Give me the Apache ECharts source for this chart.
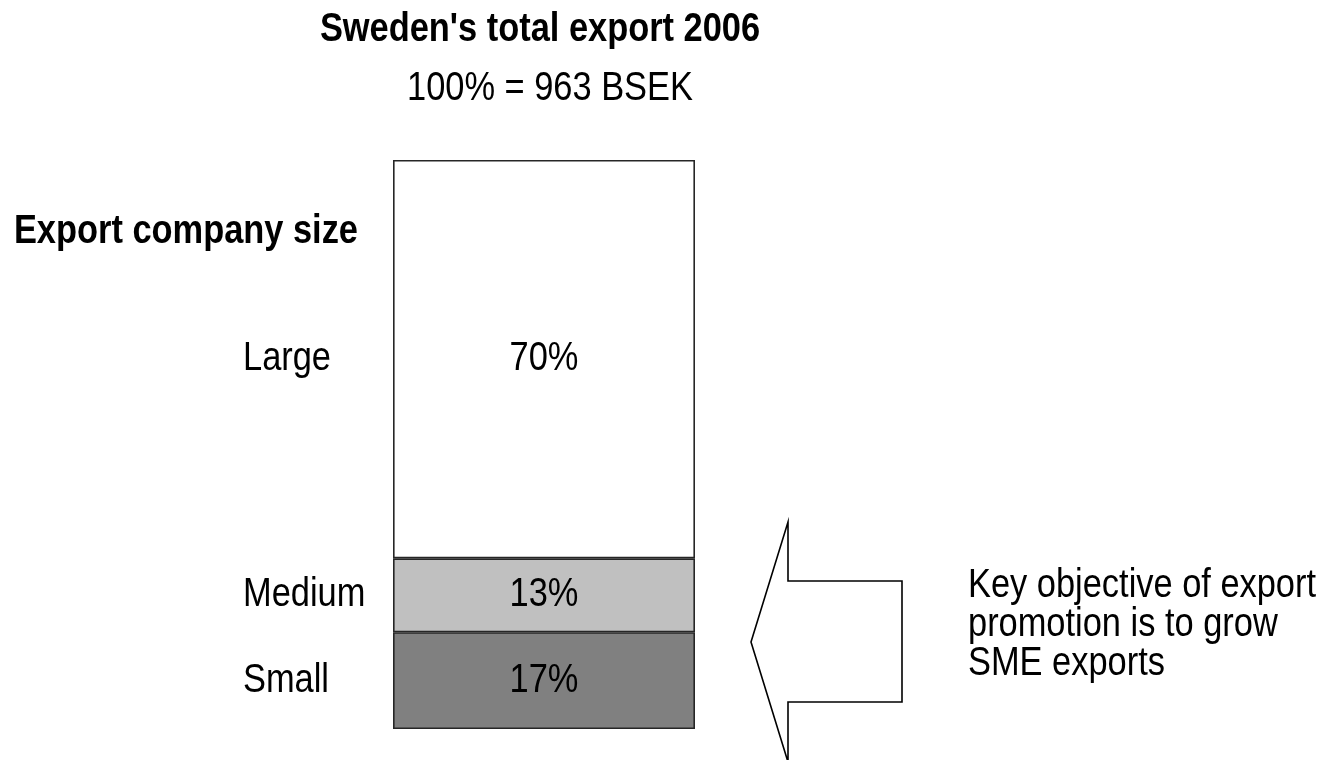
<!DOCTYPE html>
<html>
<head>
<meta charset="utf-8">
<title>Sweden's total export 2006</title>
<script src="https://cdn.jsdelivr.net/npm/echarts@6/dist/echarts.min.js"></script>
<style>
  html, body { margin: 0; padding: 0; background: #ffffff; }
  #chart { width: 1325px; height: 760px; }
</style>
</head>
<body>
<div id="chart"></div>
<script>
// Share of Swedish exports by size of exporting company (percent of 963 BSEK)
const sizeClasses = ['Small', 'Medium', 'Large'];
const shares = [17, 13, 70];
const segmentColors = ['#808080', '#c0c0c0', '#ffffff'];

const titleText = "Sweden's total export 2006";
const subtitleText = '100% = 963 BSEK';
const axisHeading = 'Export company size';
const noteLines = ['Key objective of export', 'promotion is to grow', 'SME exports'];

// Condensed sans look: regular sans glyphs squeezed horizontally
const FONT = "'Liberation Sans', Arial, sans-serif";
const FS = 40;
const SQUEEZE = 0.86;

const chart = echarts.init(document.getElementById('chart'), null, { renderer: 'canvas' });

const series = sizeClasses.map((name, i) => ({
  name: name,
  type: 'bar',
  stack: 'total',
  barWidth: '100%',
  data: [shares[i]],
  itemStyle: { color: segmentColors[i], borderColor: '#262626', borderWidth: 1.6 },
  label: { show: false },
  emphasis: { disabled: true },
  silent: true
}));

chart.setOption({
  animation: false,
  backgroundColor: '#ffffff',
  grid: { left: 393, right: 630, top: 160, bottom: 31, containLabel: false },
  xAxis: { type: 'category', data: ['2006'], show: false },
  yAxis: { type: 'value', min: 0, max: 100, show: false },
  series: series
});

function label(text, x, y, align, bold) {
  return {
    type: 'text',
    x: x, y: y,
    z: 100,
    scaleX: SQUEEZE,
    silent: true,
    style: {
      text: text,
      font: (bold ? 'bold ' : '') + FS + 'px ' + FONT,
      fill: '#000000',
      textAlign: align,
      textVerticalAlign: 'middle'
    }
  };
}

const graphics = [
  label(titleText, 540, 30, 'center', true),
  label(subtitleText, 550, 89, 'center', false),
  label(axisHeading, 358, 232, 'right', true),
  {
    type: 'polygon',
    silent: true,
    z: 100,
    shape: { points: [[751, 642], [788, 522], [788, 581], [902, 581], [902, 702], [788, 702], [788, 762]] },
    style: { fill: '#ffffff', stroke: '#000000', lineWidth: 1.6 }
  }
];

noteLines.forEach((line, i) => {
  graphics.push(label(line, 968, 586 + i * 39, 'left', false));
});

// Size-class names and their shares sit at each segment's centre on the value axis
let cumulative = 0;
shares.forEach((v, i) => {
  const mid = cumulative + v / 2;
  cumulative += v;
  const px = chart.convertToPixel({ gridIndex: 0 }, [0, mid]);
  graphics.push(label(sizeClasses[i], 243, px[1], 'left', false));
  graphics.push(label(v + '%', px[0], px[1], 'center', false));
});

chart.setOption({ graphic: { elements: graphics } });
</script>
</body>
</html>
